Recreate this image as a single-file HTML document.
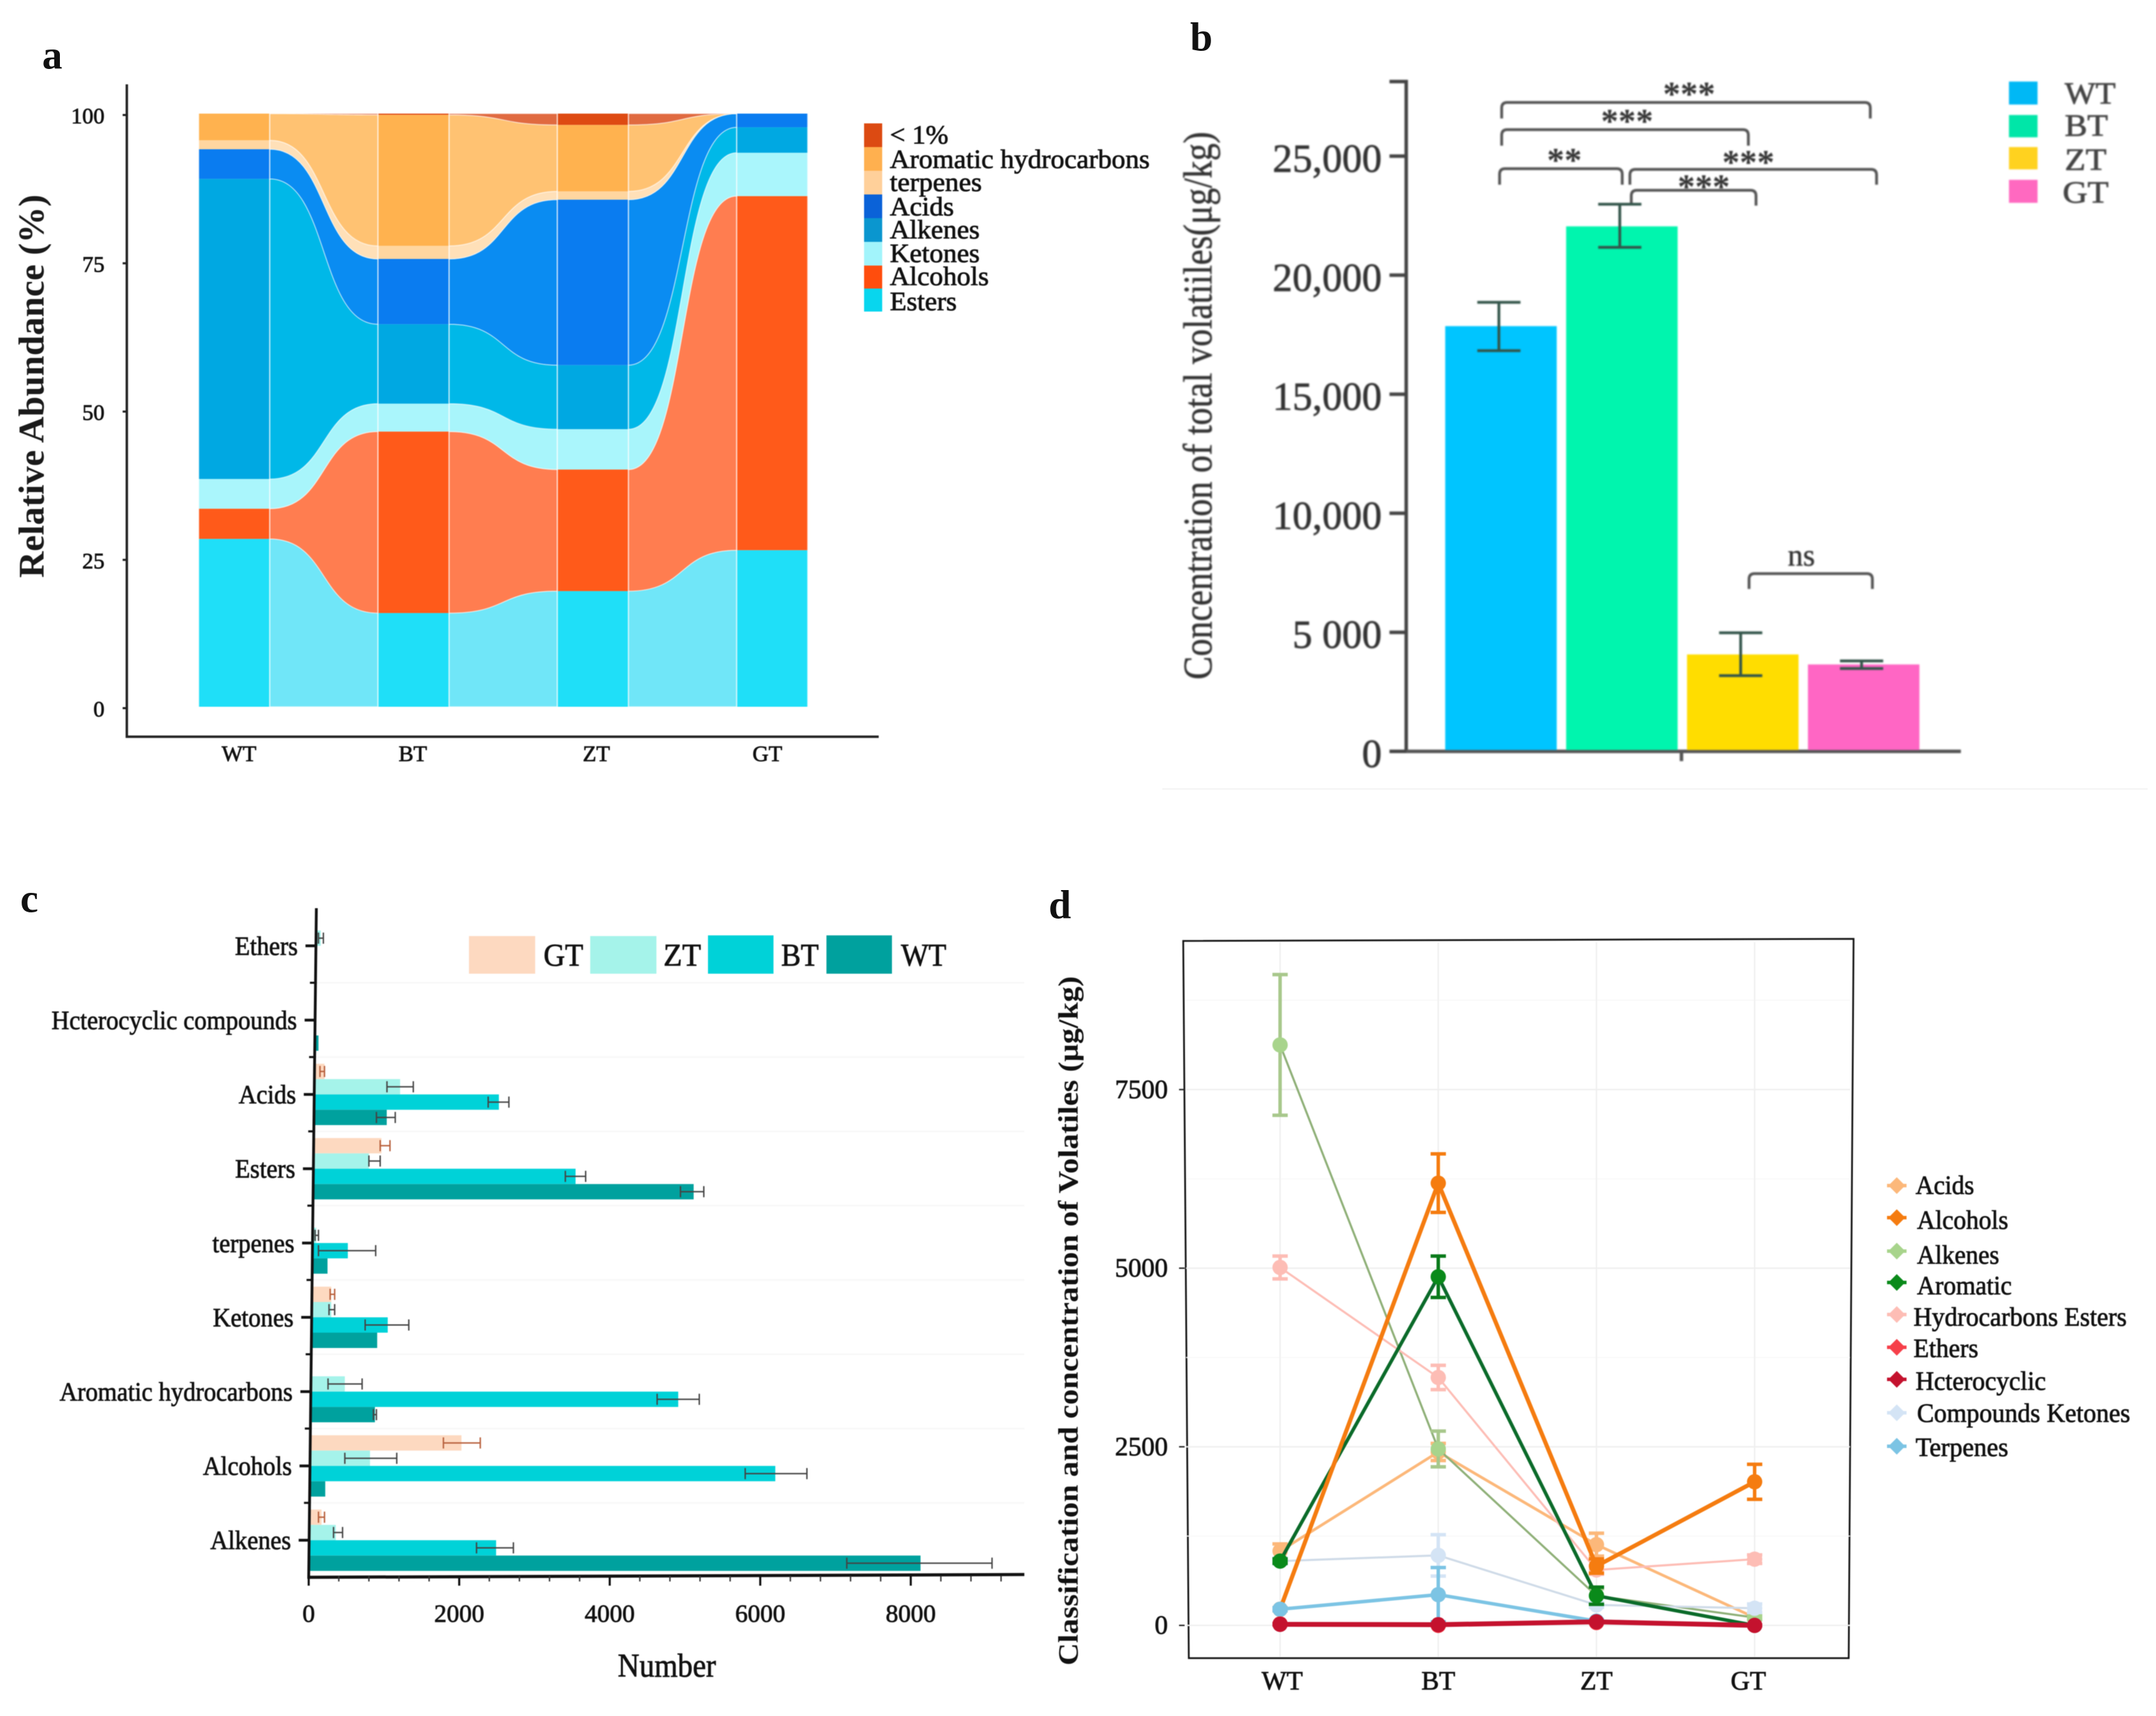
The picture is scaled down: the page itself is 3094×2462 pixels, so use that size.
<!DOCTYPE html>
<html lang="en">
<head>
<meta charset="utf-8">
<title>Volatile compound composition charts</title>
<style>
html,body{margin:0;padding:0;background:#fff;width:3094px;height:2462px;overflow:hidden}
svg{display:block;font-family:"Liberation Serif","Noto Serif CJK SC",serif}
.t{stroke:currentColor;stroke-width:.8px;dominant-baseline:central}
.letter{font-weight:bold;font-size:58px;fill:#111;dominant-baseline:central}
</style>
</head>
<body>
<svg id="figure" xmlns="http://www.w3.org/2000/svg" width="3094" height="2462" viewBox="0 0 3094 2462">
  <rect x="0" y="0" width="3094" height="2462" fill="#ffffff"/>
  <path d="M1668 1132H3082" stroke="#f4f4f4" stroke-width="2" fill="none"/>

  <text class="letter" x="75" y="79" text-anchor="middle">a</text>
  <text class="letter" x="1724" y="53" text-anchor="middle">b</text>
  <text class="letter" x="42" y="1289" text-anchor="middle">c</text>
  <text class="letter" x="1521" y="1298" text-anchor="middle">d</text>

  <!-- PANEL A -->
  <g id="chart-a" style="filter:blur(.5px)">
    <text transform="translate(46,554) rotate(-90)" text-anchor="middle" font-size="52" font-weight="bold" fill="#1a1a1a" textLength="550" lengthAdjust="spacingAndGlyphs" style="dominant-baseline:central">Relative Abundance (%)</text>
    <path d="M182 121V1057H1261" fill="none" stroke="#222" stroke-width="3.5"/>
    <g font-size="38" fill="#111" color="#111">
      <rect x="1240" y="177" width="26" height="34" fill="#dc4a12"/>
      <text class="t" x="1277" y="194" textLength="84" lengthAdjust="spacingAndGlyphs">&lt; 1%</text>
      <rect x="1240" y="211" width="26" height="34" fill="#ffb04f"/>
      <text class="t" x="1277" y="229" textLength="373" lengthAdjust="spacingAndGlyphs">Aromatic hydrocarbons</text>
      <rect x="1240" y="245" width="26" height="34" fill="#ffd09a"/>
      <text class="t" x="1277" y="262" textLength="132" lengthAdjust="spacingAndGlyphs">terpenes</text>
      <rect x="1240" y="279" width="26" height="34" fill="#0a62d8"/>
      <text class="t" x="1277" y="297" textLength="92" lengthAdjust="spacingAndGlyphs">Acids</text>
      <rect x="1240" y="313" width="26" height="34" fill="#0a96cf"/>
      <text class="t" x="1277" y="330" textLength="129" lengthAdjust="spacingAndGlyphs">Alkenes</text>
      <rect x="1240" y="347" width="26" height="34" fill="#a2f4fb"/>
      <text class="t" x="1277" y="364" textLength="129" lengthAdjust="spacingAndGlyphs">Ketones</text>
      <rect x="1240" y="381" width="26" height="33" fill="#ff4d0d"/>
      <text class="t" x="1277" y="397" textLength="142" lengthAdjust="spacingAndGlyphs">Alcohols</text>
      <rect x="1240" y="414" width="26" height="33" fill="#08d6ee"/>
      <text class="t" x="1277" y="433" textLength="96" lengthAdjust="spacingAndGlyphs">Esters</text>
    </g>
  </g>

  <!-- PANEL B -->
  <g id="chart-b" style="filter:blur(1px)">
    <text transform="translate(1719,582) rotate(-90)" text-anchor="middle" font-size="58" fill="#333" stroke="#333" stroke-width=".6" textLength="786" lengthAdjust="spacingAndGlyphs" style="dominant-baseline:central">Concentration of total volatiiles(μg/kg)</text>
    <path d="M1994 117H2018V1078" fill="none" stroke="#444" stroke-width="5"/>
    <path d="M1994 1078H2814M2413 1078V1092" fill="none" stroke="#555" stroke-width="5"/>
    <g fill="none" stroke="#555" stroke-width="4">
      <path d="M2155 170V155Q2155 147 2163 147H2676Q2684 147 2684 155V170"/>
      <path d="M2155 209V194Q2155 186 2163 186H2501Q2509 186 2509 194V209"/>
      <path d="M2152 265V250Q2152 242 2160 242H2320Q2328 242 2328 250V265"/>
      <path d="M2339 265V251Q2339 243 2347 243H2685Q2693 243 2693 251V265"/>
      <path d="M2341 295V281Q2341 273 2349 273H2512Q2520 273 2520 281V295"/>
      <path d="M2510 845V831Q2510 823 2518 823H2679Q2687 823 2687 831V845"/>
    </g>
    <g font-size="50" font-weight="bold" fill="#333" text-anchor="middle" style="dominant-baseline:central">
      <text x="2424" y="134">***</text>
      <text x="2335" y="173">***</text>
      <text x="2245" y="229">**</text>
      <text x="2509" y="232">***</text>
      <text x="2445" y="267">***</text>
      <text x="2585" y="797" font-size="44" font-weight="normal" stroke="#333" stroke-width=".5">ns</text>
    </g>
    <g font-size="44" fill="#444" stroke="#444" stroke-width=".8">
      <rect x="2883" y="117" width="41" height="33" fill="#00b8f5" stroke="none"/>
      <text x="2963" y="134" textLength="73" lengthAdjust="spacingAndGlyphs" style="dominant-baseline:central">WT</text>
      <rect x="2883" y="165" width="41" height="32" fill="#00e6a8" stroke="none"/>
      <text x="2963" y="180" textLength="62" lengthAdjust="spacingAndGlyphs" style="dominant-baseline:central">BT</text>
      <rect x="2883" y="211" width="41" height="32" fill="#ffd21f" stroke="none"/>
      <text x="2963" y="229" textLength="60" lengthAdjust="spacingAndGlyphs" style="dominant-baseline:central">ZT</text>
      <rect x="2883" y="258" width="41" height="33" fill="#ff69c0" stroke="none"/>
      <text x="2960" y="276" textLength="66" lengthAdjust="spacingAndGlyphs" style="dominant-baseline:central">GT</text>
    </g>
  </g>

  <!-- PANEL C -->
  <g id="chart-c" style="filter:blur(.5px)">
    <g font-size="46" fill="#111" color="#111">
      <rect x="673" y="1343" width="95" height="54" fill="#fdd9c0"/>
      <text class="t" x="780" y="1370" textLength="57" lengthAdjust="spacingAndGlyphs">GT</text>
      <rect x="847" y="1343" width="95" height="54" fill="#a5f3ea"/>
      <text class="t" x="952" y="1370" textLength="54" lengthAdjust="spacingAndGlyphs">ZT</text>
      <rect x="1016" y="1342" width="94" height="55" fill="#00d2d8"/>
      <text class="t" x="1121" y="1370" textLength="54" lengthAdjust="spacingAndGlyphs">BT</text>
      <rect x="1186" y="1342" width="94" height="55" fill="#00a19e"/>
      <text class="t" x="1293" y="1370" textLength="65" lengthAdjust="spacingAndGlyphs">WT</text>
    </g>
    <text class="t" x="957" y="2390" text-anchor="middle" font-size="48" fill="#111" color="#111" textLength="141" lengthAdjust="spacingAndGlyphs">Number</text>
  </g>

  <!-- PANEL D -->
  <g id="chart-d" style="filter:blur(.5px)">
    <text transform="translate(1533,1895) rotate(-90)" text-anchor="middle" font-size="40" font-weight="bold" fill="#111" textLength="989" lengthAdjust="spacingAndGlyphs" style="dominant-baseline:central">Classification and concentration of Volatiles (μg/kg)</text>
    <g font-size="38" fill="#111" color="#111">
      <path d="M2708 1701H2736" stroke="#fcb87a" stroke-width="5"/>
      <path d="M2722 1689l12 12-12 12-12-12z" fill="#fcb87a"/>
      <text class="t" x="2749" y="1701" textLength="84" lengthAdjust="spacingAndGlyphs">Acids</text>
      <path d="M2708 1747H2736" stroke="#f57c10" stroke-width="5"/>
      <path d="M2722 1735l12 12-12 12-12-12z" fill="#f57c10"/>
      <text class="t" x="2751" y="1751" textLength="131" lengthAdjust="spacingAndGlyphs">Alcohols</text>
      <path d="M2708 1795H2736" stroke="#a8d48c" stroke-width="5"/>
      <path d="M2722 1783l12 12-12 12-12-12z" fill="#a8d48c"/>
      <text class="t" x="2751" y="1801" textLength="118" lengthAdjust="spacingAndGlyphs">Alkenes</text>
      <path d="M2708 1840H2736" stroke="#0a8a1a" stroke-width="5"/>
      <path d="M2722 1828l12 12-12 12-12-12z" fill="#0a8a1a"/>
      <text class="t" x="2751" y="1845" textLength="136" lengthAdjust="spacingAndGlyphs">Aromatic</text>
      <path d="M2708 1886H2736" stroke="#fdbdb5" stroke-width="5"/>
      <path d="M2722 1874l12 12-12 12-12-12z" fill="#fdbdb5"/>
      <text class="t" x="2746" y="1890" textLength="306" lengthAdjust="spacingAndGlyphs">Hydrocarbons Esters</text>
      <path d="M2708 1933H2736" stroke="#f6404a" stroke-width="5"/>
      <path d="M2722 1921l12 12-12 12-12-12z" fill="#f6404a"/>
      <text class="t" x="2746" y="1935" textLength="93" lengthAdjust="spacingAndGlyphs">Ethers</text>
      <path d="M2708 1979H2736" stroke="#c4122e" stroke-width="5"/>
      <path d="M2722 1967l12 12-12 12-12-12z" fill="#c4122e"/>
      <text class="t" x="2749" y="1982" textLength="187" lengthAdjust="spacingAndGlyphs">Hcterocyclic</text>
      <path d="M2708 2027H2736" stroke="#d4e4f5" stroke-width="5"/>
      <path d="M2722 2015l12 12-12 12-12-12z" fill="#d4e4f5"/>
      <text class="t" x="2751" y="2028" textLength="306" lengthAdjust="spacingAndGlyphs">Compounds Ketones</text>
      <path d="M2708 2075H2736" stroke="#7cc4e4" stroke-width="5"/>
      <path d="M2722 2063l12 12-12 12-12-12z" fill="#7cc4e4"/>
      <text class="t" x="2749" y="2077" textLength="133" lengthAdjust="spacingAndGlyphs">Terpenes</text>
    </g>
  </g>
</svg>

<script>
/* ---------- panel a data (percent per group, bottom to top) ---------- */
var aCategories = ['WT', 'BT', 'ZT', 'GT'];
var aTicks = [0, 25, 50, 75, 100];
var aSeriesNames = ['esters', 'alcohols', 'ketones', 'alkenes', 'acids', 'terpenes', 'aromatic', 'lt1'];
var aEsters = [28.3, 15.8, 19.5, 26.4];
var aAlcohols = [5.1, 30.6, 20.5, 59.7];
var aKetones = [5.0, 4.7, 6.8, 7.3];
var aAlkenes = [50.6, 13.4, 10.8, 4.3];
var aAcids = [5.0, 11.0, 27.9, 2.3];
var aTerpenes = [1.5, 2.2, 1.4, 0];
var aAromatic = [4.5, 22.1, 11.2, 0];
var aLt1 = [0, 0.2, 1.9, 0];

/* ---------- panel b data ---------- */
var bCategories = ['WT', 'BT', 'ZT', 'GT'];
var bTickValues = [0, 5000, 10000, 15000, 20000, 25000];
var bTickLabels = ['0', '5 000', '10,000', '15,000', '20,000', '25,000'];
var bValues = [17860, 22050, 4070, 3650];
var bErrLow = [16830, 21170, 3180, 3480];
var bErrHigh = [18860, 22980, 4980, 3800];

/* ---------- panel c data ---------- */
var cCategories = ['Ethers', 'Hcterocyclic compounds', 'Acids', 'Esters', 'terpenes', 'Ketones', 'Aromatic hydrocarbons', 'Alcohols', 'Alkenes'];
var cTicks = [0, 2000, 4000, 6000, 8000];
var cMinorTicks = [400, 800, 1200, 1600, 2400, 2800, 3200, 3600, 4400, 4800, 5200, 5600, 6400, 6800, 7200, 7600, 8400, 8800, 9200];
var cSeriesNames = ['GT', 'ZT', 'BT', 'WT'];
var cGT = [0, 0, 210, 966, 0, 300, 0, 2030, 170];
var cGTLow = [0, 0, 150, 950, 0, 285, 0, 1790, 130];
var cGTHigh = [0, 0, 210, 1080, 0, 345, 0, 2280, 210];
var cZT = [160, 0, 1215, 800, 100, 300, 480, 815, 360];
var cZTLow = [130, 0, 1040, 800, 85, 270, 257, 480, 330];
var cZTHigh = [195, 0, 1390, 950, 130, 345, 710, 1170, 450];
var cBT = [0, 0, 2527, 3546, 520, 1050, 4910, 6200, 2490];
var cBTLow = [0, 0, 2385, 3410, 130, 750, 4630, 5800, 2230];
var cBTHigh = [0, 0, 2660, 3680, 890, 1330, 5190, 6620, 2720];
var cWT = [0, 130, 1037, 5115, 250, 910, 880, 220, 8130];
var cWTLow = [0, 130, 900, 4940, 250, 910, 860, 220, 7150];
var cWTHigh = [0, 130, 1150, 5250, 250, 910, 900, 220, 9080];

/* ---------- panel d data ---------- */
var dCategories = ['WT', 'BT', 'ZT', 'GT'];
var dTicks = [0, 2500, 5000, 7500];
var dGridValues = [1250, 3750, 6250, 8750];
var dAcids = [1040, 2427, 1130, 110];
var dAcidsErr = [100, 120, 160, 30];
var dAlkenes = [8125, 2470, 415, 110];
var dAlkenesErr = [985, 250, 100, 30];
var dEsters = [5010, 3470, 776, 927];
var dEstersErr = [160, 170, 60, 60];
var dKetones = [900, 980, 286, 240];
var dKetonesErr = [40, 290, 30, 60];
var dAromatic = [900, 4880, 415, 0];
var dAromaticErr = [30, 290, 120, 5];
var dAlcohols = [226, 6190, 830, 2010];
var dAlcoholsErr = [20, 410, 100, 245];
var dTerpenes = [226, 430, 60, 0];
var dTerpenesErr = [20, 380, 20, 5];
var dEthers = [20, 0, 40, 0];
var dEthersErr = [5, 5, 5, 5];
var dHcterocyclic = [15, 10, 50, 0];
var dHcterocyclicErr = [5, 5, 5, 5];

var SVGNS = 'http://www.w3.org/2000/svg';
function mk(tag, parent, attrs, txt) {
  var el = document.createElementNS(SVGNS, tag);
  for (var k in attrs) { el.setAttribute(k, attrs[k]); }
  if (txt !== undefined) { el.textContent = txt; }
  parent.appendChild(el);
  return el;
}

/* ---------- panel a drawing ---------- */
(function () {
  var root = document.getElementById('chart-a');
  var series = [aEsters, aAlcohols, aKetones, aAlkenes, aAcids, aTerpenes, aAromatic, aLt1];
  var colColors = ['#1fdff8', '#ff5a1a', '#aaf6fc', '#00a8e2', '#0a7cf0', '#ffd6a0', '#ffb24f', '#de4a12'];
  var flowColors = ['#70e6f8', '#ff7d50', '#a8f5fb', '#00b8e8', '#0a8cf2', '#ffe0b8', '#ffc272', '#e06a40'];
  var labelShift = [7, -1, 5, -7];
  function xA(i) { return 336 + 257.4 * i; }
  function yA(v) { return 1014 - 8.51 * v; }
  var half = 51;
  var g = mk('g', root, {});
  
  
  var base = aCategories.map(function () { return 0; });
  series.forEach(function (vals, s) {
    var top = vals.map(function (v, i) { return base[i] + v; });
    for (var f = 0; f < aCategories.length - 1; f++) {
      var x0 = xA(f) + half, x1 = xA(f + 1) - half, w = x1 - x0;
      var c0 = x0 + w * 0.55, c1 = x1 - w * 0.55;
      var d = 'M' + x0 + ' ' + yA(top[f]) +
        'C' + c0 + ' ' + yA(top[f]) + ' ' + c1 + ' ' + yA(top[f + 1]) + ' ' + x1 + ' ' + yA(top[f + 1]) +
        'L' + x1 + ' ' + yA(base[f + 1]) +
        'C' + c1 + ' ' + yA(base[f + 1]) + ' ' + c0 + ' ' + yA(base[f]) + ' ' + x0 + ' ' + yA(base[f]) + 'Z';
      var flow = mk('path', g, { d: d, fill: flowColors[s], stroke: 'rgba(255,255,255,.45)', 'stroke-width': 1.5 });
      
      
    }
    aCategories.forEach(function (c, i) {
      if (vals[i] <= 0) { return; }
      var r = mk('rect', g, { x: xA(i) - half, y: yA(top[i]), width: half * 2, height: yA(base[i]) - yA(top[i]), fill: colColors[s] });
      
      
    });
    base = top;
  });
  aCategories.forEach(function (c, i) {
    [xA(i) - half, xA(i) + half].forEach(function (x) {
      var l = mk('line', g, { x1: x, x2: x, y1: yA(100), y2: yA(0), stroke: 'rgba(255,255,255,.6)', 'stroke-width': 2 });
      
      
    });
    var lab = mk('text', root, { x: xA(i) + labelShift[i], y: 1081, 'text-anchor': 'middle', 'font-size': 32, fill: '#111', color: '#111', class: 't' }, c);
    
    
  });
  aTicks.forEach(function (t) {
    var m = mk('line', root, { x1: 176, x2: 182, y1: yA(t) + 2, y2: yA(t) + 2, stroke: '#222', 'stroke-width': 3 });
    
    
    var lab = mk('text', root, { x: 150, y: yA(t) + 3, 'text-anchor': 'end', 'font-size': 32, fill: '#111', color: '#111', class: 't' }, t);
    
    
  });
})();

/* ---------- panel b drawing ---------- */
(function () {
  var root = document.getElementById('chart-b');
  var colors = ['#00c5ff', '#00f5ae', '#ffdd00', '#ff66c4'];
  var barW = 160;
  function xB(i) { return 2154 + 173.5 * i; }
  function yB(v) { return 1078 - 0.03416 * v; }
  bCategories.forEach(function (c, i) {
    var r = mk('rect', root, { x: xB(i) - barW / 2, y: yB(bValues[i]), width: barW, height: yB(0) - yB(bValues[i]) - 2, fill: colors[i] });
    
    
    var cx = xB(i) - 3;
    var e = mk('path', root, {
      d: 'M' + (cx - 31) + ' ' + yB(bErrHigh[i]) + 'H' + (cx + 31) + 'M' + cx + ' ' + yB(bErrHigh[i]) + 'V' + yB(bErrLow[i]) + 'M' + (cx - 31) + ' ' + yB(bErrLow[i]) + 'H' + (cx + 31),
      fill: 'none', stroke: '#33554a', 'stroke-width': 4
    });
    
    
  });
  bTickValues.forEach(function (t, i) {
    var m = mk('line', root, { x1: 1994, x2: 2018, y1: yB(t), y2: yB(t), stroke: '#444', 'stroke-width': 5 });
    
    
    var lab = mk('text', root, { x: 1983, y: yB(t) + 4, 'text-anchor': 'end', 'font-size': 57, fill: '#333', stroke: '#333', 'stroke-width': .8 }, bTickLabels[i]);
    lab.style.dominantBaseline = 'central';
    
    
  });
})();

/* ---------- panel c drawing ---------- */
(function () {
  var root = document.getElementById('chart-c');
  var values = [cGT, cZT, cBT, cWT];
  var lows = [cGTLow, cZTLow, cBTLow, cWTLow];
  var highs = [cGTHigh, cZTHigh, cBTHigh, cWTHigh];
  var colors = ['#fdd9c0', '#a5f3ea', '#00d2d8', '#00a19e'];
  var errColors = ['#b8603c', '#444', '#444', '#444'];
  function xC(v) { return 443 + 0.108 * v; }
  function yC(i) { return 1357 + 106.6 * i; }
  function axisX(y) { return 454 - (y - 1303) * 11 / 960; }
  var barH = 22;
  cCategories.forEach(function (c, i) {
    if (i < cCategories.length - 1) {
      var gy = yC(i) + 53;
      var gl = mk('line', root, { x1: axisX(gy), x2: 1470, y1: gy, y2: gy, stroke: '#f7f7f7', 'stroke-width': 2 });
      
      
      var mt = mk('line', root, { x1: axisX(gy) - 8, x2: axisX(gy), y1: gy, y2: gy, stroke: '#111', 'stroke-width': 3 });
      
      
    }
    cSeriesNames.forEach(function (s, k) {
      var y0 = yC(i) - 44 + k * barH;
      var ax = axisX(y0);
      var v = values[k][i];
      if (v > 0 && xC(v) > ax) {
        var r = mk('rect', root, { x: ax, y: y0, width: xC(v) - ax, height: barH, fill: colors[k] });
        
        
      }
      if (highs[k][i] > lows[k][i]) {
        var ym = y0 + barH / 2;
        var e = mk('path', root, {
          d: 'M' + xC(lows[k][i]) + ' ' + (ym - 8) + 'V' + (ym + 8) + 'M' + xC(lows[k][i]) + ' ' + ym + 'H' + xC(highs[k][i]) + 'M' + xC(highs[k][i]) + ' ' + (ym - 8) + 'V' + (ym + 8),
          fill: 'none', stroke: errColors[k], 'stroke-width': 2
        });
        
        
      }
    });
    var tx = axisX(yC(i));
    var t = mk('line', root, { x1: tx - 15, x2: tx, y1: yC(i), y2: yC(i), stroke: '#111', 'stroke-width': 4 });
    
    
    var lab = mk('text', root, { transform: 'translate(' + (tx - 26) + ',' + yC(i) + ') scale(.93,1)', 'text-anchor': 'end', 'font-size': 38, fill: '#111', color: '#111', class: 't' }, c);
    
    
  });
  var ya = mk('line', root, { x1: 454, y1: 1303, x2: 443, y2: 2263, stroke: '#111', 'stroke-width': 4 });
  
  
  var xa = mk('line', root, { x1: 441, y1: 2263, x2: 1470, y2: 2259, stroke: '#111', 'stroke-width': 4.5 });
  
  
  cMinorTicks.forEach(function (t) {
    var m = mk('line', root, { x1: xC(t), x2: xC(t), y1: 2261, y2: 2269, stroke: '#333', 'stroke-width': 2 });
    
    
  });
  cTicks.forEach(function (t) {
    var m = mk('line', root, { x1: xC(t), x2: xC(t), y1: 2261, y2: 2275, stroke: '#111', 'stroke-width': 3 });
    
    
    var lab = mk('text', root, { x: xC(t), y: 2315, 'text-anchor': 'middle', 'font-size': 36, fill: '#111', color: '#111', class: 't' }, t);
    
    
  });
})();

/* ---------- panel d drawing ---------- */
(function () {
  var root = document.getElementById('chart-d');
  var names = ['acids', 'alkenes', 'esters', 'ketones', 'aromatic', 'alcohols', 'terpenes', 'ethers', 'hcterocyclic'];
  var series = [dAcids, dAlkenes, dEsters, dKetones, dAromatic, dAlcohols, dTerpenes, dEthers, dHcterocyclic];
  var errs = [dAcidsErr, dAlkenesErr, dEstersErr, dKetonesErr, dAromaticErr, dAlcoholsErr, dTerpenesErr, dEthersErr, dHcterocyclicErr];
  var lineColors = ['#fcb87a', '#8fb078', '#fdbdb5', '#cfdbe8', '#0b6b2a', '#f57c10', '#7cc4e4', '#f6404a', '#c4122e'];
  var markColors = ['#fcb87a', '#a8d48c', '#fdbdb5', '#d4e4f5', '#0a8a1a', '#f57c10', '#7cc4e4', '#f6404a', '#c4122e'];
  var errColors = ['#fcb87a', '#a8c88c', '#fdbdb5', '#d4e4f5', '#0a7a1a', '#f57c10', '#7cc4e4', '#f6404a', '#c4122e'];
  var widths = [4, 3, 3, 3, 5, 6, 5, 4, 7];
  var labelShift = [3, 0, 0, -9];
  function xD(i) { return 1837 + 227 * i; }
  function yD(v) { return 2332 - 0.1025 * v; }
  var box = mk('path', root, { d: 'M1698 1350L2660 1347L2653 2379L1706 2379Z', fill: '#fff', stroke: '#111', 'stroke-width': 2.5 });
  
  
  dGridValues.forEach(function (v) {
    var gl = mk('line', root, { x1: 1702, x2: 2655, y1: yD(v), y2: yD(v), stroke: '#f8f8f8', 'stroke-width': 1.5 });
    
    
  });
  dTicks.forEach(function (t) {
    var gl = mk('line', root, { x1: 1702, x2: 2655, y1: yD(t), y2: yD(t), stroke: '#efefef', 'stroke-width': 2 });
    
    
    var m = mk('line', root, { x1: 1692, x2: 1700, y1: yD(t), y2: yD(t), stroke: '#222', 'stroke-width': 2 });
    
    
    var lab = mk('text', root, { x: 1676, y: yD(t), 'text-anchor': 'end', 'font-size': 38, fill: '#111', color: '#111', class: 't' }, t);
    
    
  });
  dCategories.forEach(function (c, i) {
    var gl = mk('line', root, { x1: xD(i), x2: xD(i), y1: 1352, y2: 2377, stroke: '#efefef', 'stroke-width': 2 });
    
    
    var lab = mk('text', root, { x: xD(i) + labelShift[i], y: 2412, 'text-anchor': 'middle', 'font-size': 38, fill: '#111', color: '#111', class: 't' }, c);
    
    
  });
  series.forEach(function (vals, s) {
    var g = mk('g', root, {});
    
    
    var pts = vals.map(function (v, i) { return xD(i) + ',' + yD(v); }).join(' ');
    var pl = mk('polyline', g, { points: pts, fill: 'none', stroke: lineColors[s], 'stroke-width': widths[s], 'stroke-linejoin': 'round' });
    
    
    vals.forEach(function (v, i) {
      var cx = xD(i), hi = yD(v + errs[s][i]), lo = yD(v - errs[s][i]);
      var e = mk('path', g, {
        d: 'M' + (cx - 11) + ' ' + hi + 'H' + (cx + 11) + 'M' + cx + ' ' + hi + 'V' + lo + 'M' + (cx - 11) + ' ' + lo + 'H' + (cx + 11),
        fill: 'none', stroke: errColors[s], 'stroke-width': 5
      });
      
      
      var p = mk('circle', g, { cx: cx, cy: yD(v), r: 11, fill: markColors[s] });
      
      
    });
  });
})();
</script>
</body>
</html>
